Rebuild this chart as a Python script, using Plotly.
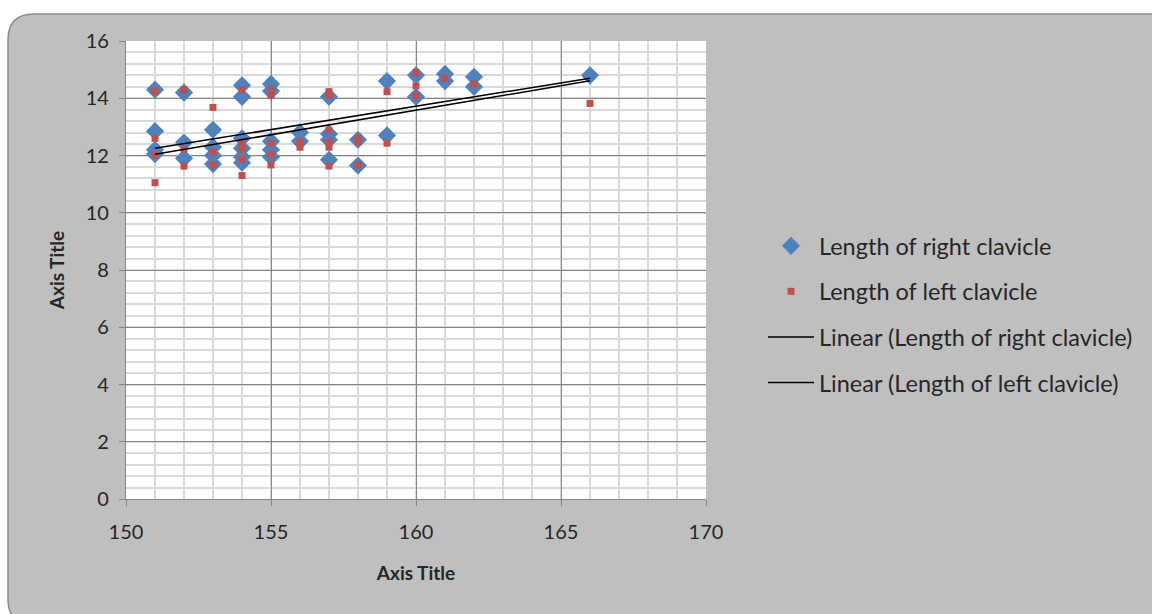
import numpy as np
import plotly.graph_objects as go

# Data
right_x = [151, 151, 151, 151,
           152, 152, 152,
           153, 153, 153, 153,
           154, 154, 154, 154, 154, 154,
           155, 155, 155, 155, 155,
           156, 156,
           157, 157, 157, 157,
           158, 158,
           159, 159,
           160, 160,
           161, 161,
           162, 162,
           166]
right_y = [14.3, 12.85, 12.2, 12.05,
           14.2, 12.45, 11.9,
           12.9, 12.3, 12.0, 11.7,
           14.45, 14.05, 12.6, 12.25, 11.95, 11.75,
           14.5, 14.25, 12.5, 12.2, 11.95,
           12.8, 12.5,
           14.05, 12.75, 12.55, 11.85,
           12.55, 11.65,
           14.6, 12.7,
           14.8, 14.05,
           14.85, 14.6,
           14.75, 14.4,
           14.8]

left_x = [151, 151, 151, 151,
          152, 152, 152,
          153, 153, 153,
          154, 154, 154, 154, 154,
          155, 155, 155, 155, 155,
          156, 156,
          157, 157, 157, 157, 157, 157,
          158, 158, 158,
          159, 159,
          160, 160, 160,
          161,
          162,
          166]
left_y = [14.25, 12.6, 12.03, 11.05,
          14.3, 12.22, 11.63,
          13.68, 12.12, 11.67,
          14.3, 12.43, 12.22, 11.87, 11.3,
          14.31, 14.11, 12.43, 12.04, 11.67,
          12.48, 12.29,
          14.23, 14.1, 12.89, 12.48, 12.29, 11.63,
          12.6, 12.48, 11.67,
          14.23, 12.43,
          14.89, 14.43, 14.08,
          14.7,
          14.49,
          13.82]

# Linear trendline values at the ends of the data range
trend_x = [151, 166]
trend_right_y = [12.25, 14.70]
trend_left_y = [12.04, 14.61]

names = ["Length of right clavicle", "Length of left clavicle",
         "Linear (Length of right clavicle)", "Linear (Length of left clavicle)"]

x_ticks = [150, 155, 160, 165, 170]
y_ticks = [0, 2, 4, 6, 8, 10, 12, 14, 16]

FONT = "Lato"
TXT = "#262626"
BLUE = "#4F81BD"
RED = "#C0504D"

fig = go.Figure()
fig.add_trace(go.Scatter(x=right_x, y=right_y, mode="markers", name=names[0],
                         legendgroup="a",
                         marker=dict(symbol="diamond", size=14, color=BLUE)))
fig.add_trace(go.Scatter(x=left_x, y=left_y, mode="markers", name=names[1],
                         legendgroup="b",
                         marker=dict(symbol="square", size=7, color=RED)))
fig.add_trace(go.Scatter(x=trend_x, y=trend_right_y, mode="lines", name=names[2],
                         legendgroup="c", line=dict(color="black", width=1.5)))
fig.add_trace(go.Scatter(x=trend_x, y=trend_left_y, mode="lines", name=names[3],
                         legendgroup="d", line=dict(color="black", width=1.5)))

W, H = 1152, 614
L, R, T, B = 126, 446, 41, 115
pw, ph = W - L - R, H - T - B

def px(x):
    return (x - L) / pw

def py(y):
    return (H - B - y) / ph

x0, x1, y0, y1 = px(8), px(1175), py(14), py(625)
rx, ry = 26 / pw, 26 / ph
path = (f"M {x0+rx},{y0} L {x1-rx},{y0} Q {x1},{y0} {x1},{y0-ry} "
        f"L {x1},{y1+ry} Q {x1},{y1} {x1-rx},{y1} L {x0+rx},{y1} "
        f"Q {x0},{y1} {x0},{y1+ry} L {x0},{y0-ry} Q {x0},{y0} {x0+rx},{y0} Z")

fig.update_layout(
    width=W, height=H,
    margin=dict(l=L, r=R, t=T, b=B),
    paper_bgcolor="white",
    plot_bgcolor="white",
    font=dict(family=FONT, size=19, color=TXT),
    shapes=[
        dict(type="path", path=path, xref="paper", yref="paper", layer="below",
             fillcolor="#BFBFBF", line=dict(color="#8C8C8C", width=1.5)),
        dict(type="rect", xref="paper", yref="paper", x0=0, x1=1, y0=0, y1=1,
             layer="below", fillcolor="white", line=dict(width=0)),
    ],
    legend=dict(x=px(763), y=py(224), xanchor="left", yanchor="top",
                bgcolor="rgba(0,0,0,0)", font=dict(family=FONT, size=23.5, color=TXT),
                tracegroupgap=12, itemwidth=46),
    showlegend=True,
)

fig.update_xaxes(
    range=[150, 170], tickvals=x_ticks, ticktext=[str(v) for v in x_ticks],
    showgrid=True, gridcolor="#868686", gridwidth=1.2,
    showline=True, linecolor="#868686", linewidth=1.2,
    ticks="outside", ticklen=6, tickcolor="#868686", ticklabelstandoff=9,
    minor=dict(dtick=1, showgrid=True, gridcolor="#D9D9D9", gridwidth=1.5, ticks=""),
    zeroline=False,
    title=dict(text="<b>Axis Title</b>", font=dict(family=FONT, size=19, color=TXT),
               standoff=24),
    tickfont=dict(family=FONT, size=20, color=TXT),
)
fig.update_yaxes(
    range=[0, 16], tickvals=y_ticks, ticktext=[str(v) for v in y_ticks],
    showgrid=True, gridcolor="#868686", gridwidth=1.2,
    showline=True, linecolor="#868686", linewidth=1.2,
    ticks="outside", ticklen=6, tickcolor="#868686", ticklabelstandoff=6,
    minor=dict(dtick=0.4, showgrid=True, gridcolor="#D9D9D9", gridwidth=1.5, ticks=""),
    zeroline=False,
    title=dict(text="<b>Axis Title</b>", font=dict(family=FONT, size=19, color=TXT),
               standoff=16),
    tickfont=dict(family=FONT, size=20, color=TXT),
)

# remove the default page margin so the 1152x614 figure fills the window exactly
fig.write_html("out.html",
               config={"displayModeBar": False},
               post_script="document.body.style.margin='0';"
                           "document.body.style.overflow='hidden';")
